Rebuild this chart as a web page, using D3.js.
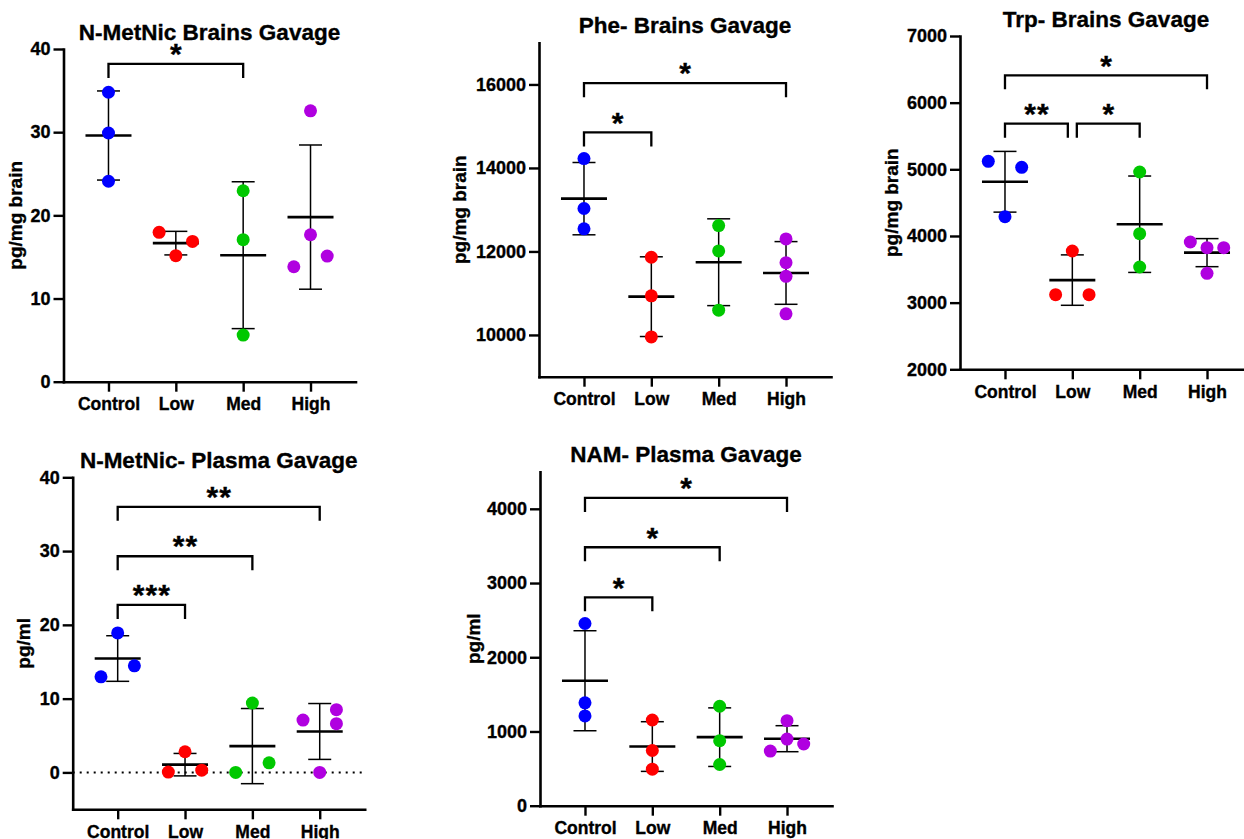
<!DOCTYPE html>
<html><head><meta charset="utf-8">
<script src="https://cdn.jsdelivr.net/npm/d3@7"></script>
<style>
html,body{margin:0;padding:0;background:#fff;overflow:hidden}
svg{display:block}
text{font-family:"Liberation Sans",Arial,sans-serif;font-weight:bold;fill:#000;stroke:#000;stroke-width:0.35px}
</style></head><body>
<svg id="chart" width="1244" height="839"></svg>
<script>
// ---------- DATA ----------
const categories = ["Control", "Low", "Med", "High"];
const groupColors = ["#0000ff", "#ff0000", "#00c800", "#b000e0"];

// Panel 1: N-MetNic Brains Gavage
const nmetBrainTitle = "N-MetNic Brains Gavage";
const nmetBrainUnit = "pg/mg brain";
const nmetBrainDomain = [0, 40];
const nmetBrainTicks = [0, 10, 20, 30, 40];
const nmetBrainValues = [[34.8, 29.9, 24.1], [17.96, 16.87, 15.15], [22.96, 17.07, 5.6], [32.57, 17.67, 13.82, 15.1]];
const nmetBrainSlots = [[0, 0, 0], [-1, 1, 0], [0, 0, 0], [0, 0, -1, 1]];
const nmetBrainSig = [["Control", "Med", 38.2, "*"]];

// Panel 2: Phe- Brains Gavage
const pheBrainTitle = "Phe- Brains Gavage";
const pheBrainUnit = "pg/mg brain";
const pheBrainDomain = [9000, 17000];
const pheBrainTicks = [10000, 12000, 14000, 16000];
const pheBrainValues = [[14224, 13029, 12541], [11861, 10938, 9952], [12620, 12012, 10594], [12300, 11731, 11404, 10505]];
const pheBrainSlots = [[0, 0, 0], [0, 0, 0], [0, 0, 0], [0, 0, 0, 0]];
const pheBrainSig = [["Control", "High", 16030, "*"], ["Control", "Low", 14850, "*"]];

// Panel 3: Trp- Brains Gavage
const trpBrainTitle = "Trp- Brains Gavage";
const trpBrainUnit = "pg/mg brain";
const trpBrainDomain = [2000, 7000];
const trpBrainTicks = [2000, 3000, 4000, 5000, 6000, 7000];
const trpBrainValues = [[5120, 5030, 4290], [3775, 3120, 3120], [4960, 4034, 3535], [3910, 3825, 3825, 3440]];
const trpBrainSlots = [[-1, 1, 0], [0, -1, 1], [0, 0, 0], [-1, 0, 1, 0]];
const trpBrainSig = [["Control", "High", 6410, "*"], ["Control", "Low", 5684, "**"], ["Low", "Med", 5684, "*"]];

// Panel 4: N-MetNic- Plasma Gavage
const nmetPlasmaTitle = "N-MetNic- Plasma Gavage";
const nmetPlasmaUnit = "pg/ml";
const nmetPlasmaDomain = [-5, 40];
const nmetPlasmaTicks = [0, 10, 20, 30, 40];
const nmetPlasmaValues = [[18.9, 14.45, 12.96], [2.8, 0.05, 0.3], [9.4, 0, 1.3], [8.5, 7.1, 6.6, 0]];
const nmetPlasmaSlots = [[0, 1, -1], [0, -1, 1], [0, -1, 1], [1, -1, 1, 0]];
const nmetPlasmaSig = [["Control", "High", 36.0, "**"], ["Control", "Med", 29.3, "**"], ["Control", "Low", 22.7, "***"]];

// Panel 5: NAM- Plasma Gavage
const namPlasmaTitle = "NAM- Plasma Gavage";
const namPlasmaUnit = "pg/ml";
const namPlasmaDomain = [0, 4500];
const namPlasmaTicks = [0, 1000, 2000, 3000, 4000];
const namPlasmaValues = [[2455, 1386, 1210], [1155, 744, 492], [1340, 875, 555], [1146, 898, 736, 831]];
const namPlasmaSlots = [[0, 0, 0], [0, 0, 0], [0, 0, 0], [0, 0, -1, 1]];
const namPlasmaSig = [["Control", "High", 4146, "*"], ["Control", "Med", 3482, "*"], ["Control", "Low", 2808, "*"]];

const panels = [
  {title: nmetBrainTitle, unit: nmetBrainUnit, domain: nmetBrainDomain, ticks: nmetBrainTicks, values: nmetBrainValues, slots: nmetBrainSlots, sig: nmetBrainSig, zeroLine: false},
  {title: pheBrainTitle, unit: pheBrainUnit, domain: pheBrainDomain, ticks: pheBrainTicks, values: pheBrainValues, slots: pheBrainSlots, sig: pheBrainSig, zeroLine: false},
  {title: trpBrainTitle, unit: trpBrainUnit, domain: trpBrainDomain, ticks: trpBrainTicks, values: trpBrainValues, slots: trpBrainSlots, sig: trpBrainSig, zeroLine: false},
  {title: nmetPlasmaTitle, unit: nmetPlasmaUnit, domain: nmetPlasmaDomain, ticks: nmetPlasmaTicks, values: nmetPlasmaValues, slots: nmetPlasmaSlots, sig: nmetPlasmaSig, zeroLine: true},
  {title: namPlasmaTitle, unit: namPlasmaUnit, domain: namPlasmaDomain, ticks: namPlasmaTicks, values: namPlasmaValues, slots: namPlasmaSlots, sig: namPlasmaSig, zeroLine: false}
];

// ---------- LAYOUT ----------
const layout = [
  {ax: 63.5, top: 49, bottom: 381.7, unitX: 21.5},
  {ax: 539, top: 42.7, bottom: 376.7, unitX: 466},
  {ax: 960, top: 36, bottom: 369.3, unitX: 897.5},
  {ax: 72.7, top: 477.3, bottom: 809.3, unitX: 29.5},
  {ax: 540, top: 471.7, bottom: 805.7, unitX: 479.5}
];
const AXIS_LEN = 292, JIT = 16.7, R = 6.5;
const MEAN_HW = 23, CAP_HW = 11.5, LEG = 14, STAR_GAP = 17, INSET = 4.5;
const STAR_FS = 30;

const svg = d3.select("#chart");

panels.forEach((p, i) => {
  const L = layout[i];
  const g = svg.append("g");
  const x = d3.scalePoint().domain(categories).range([L.ax, L.ax + AXIS_LEN]).padding(0.668);
  const y = d3.scaleLinear().domain(p.domain).range([L.bottom, L.top]);

  if (p.zeroLine) {
    g.append("line")
      .attr("x1", L.ax).attr("x2", L.ax + AXIS_LEN)
      .attr("y1", y(0)).attr("y2", y(0))
      .attr("stroke", "#000").attr("stroke-width", 2)
      .attr("stroke-dasharray", "2,5");
  }

  // axes
  const ya = g.append("g").attr("transform", `translate(${L.ax},0)`)
    .call(d3.axisLeft(y).tickValues(p.ticks).tickSize(10).tickSizeOuter(0).tickPadding(3).tickFormat(d3.format("d")));
  const xa = g.append("g").attr("transform", `translate(0,${L.bottom})`)
    .call(d3.axisBottom(x).tickSize(10).tickSizeOuter(0).tickPadding(6));
  [ya, xa].forEach(a => {
    a.attr("font-family", null).attr("font-size", null);
    a.selectAll("path.domain").attr("stroke", "#000").attr("stroke-width", 2.6).attr("stroke-linecap", "square");
    a.selectAll(".tick line").attr("stroke", "#000").attr("stroke-width", 2.4);
    a.selectAll(".tick text").attr("fill", "#000");
  });
  ya.selectAll(".tick text").style("font-size", "18px");
  xa.selectAll(".tick text").style("font-size", "17.5px");

  // title
  g.append("text")
    .attr("x", (x(categories[0]) + x(categories[categories.length - 1])) / 2)
    .attr("y", L.top - 9.5)
    .attr("text-anchor", "middle")
    .style("font-size", "22.5px")
    .text(p.title);

  // unit label
  g.append("text")
    .attr("transform", `translate(${L.unitX},${(L.top + L.bottom) / 2}) rotate(-90)`)
    .attr("text-anchor", "middle")
    .style("font-size", "19px")
    .text(p.unit);

  // error bars (mean ± SD)
  categories.forEach((c, k) => {
    const vals = p.values[k];
    const m = d3.mean(vals), s = d3.deviation(vals);
    const cx = x(c);
    const eb = g.append("g").attr("stroke", "#000");
    eb.append("line").attr("x1", cx).attr("x2", cx).attr("y1", y(m - s)).attr("y2", y(m + s)).attr("stroke-width", 1.5);
    eb.append("line").attr("x1", cx - CAP_HW).attr("x2", cx + CAP_HW).attr("y1", y(m + s)).attr("y2", y(m + s)).attr("stroke-width", 1.5);
    eb.append("line").attr("x1", cx - CAP_HW).attr("x2", cx + CAP_HW).attr("y1", y(m - s)).attr("y2", y(m - s)).attr("stroke-width", 1.5);
    eb.append("line").attr("x1", cx - MEAN_HW).attr("x2", cx + MEAN_HW).attr("y1", y(m)).attr("y2", y(m)).attr("stroke-width", 2.6);
  });

  // points
  categories.forEach((c, k) => {
    g.append("g").selectAll("circle")
      .data(p.values[k].map((v, j) => ({v, slot: p.slots[k][j]})))
      .join("circle")
      .attr("cx", d => x(c) + d.slot * JIT)
      .attr("cy", d => y(d.v))
      .attr("r", R)
      .attr("fill", groupColors[k]);
  });

  // significance brackets
  p.sig.forEach(([a, b, lvl, lab], bi) => {
    const shares = (cat) => p.sig.some((o, oi) => oi !== bi && o[2] === lvl && (o[0] === cat || o[1] === cat));
    const x1 = x(a) + (shares(a) ? INSET : 0);
    const x2 = x(b) - (shares(b) ? INSET : 0);
    const yl = y(lvl);
    g.append("path")
      .attr("d", `M${x1},${yl + LEG}V${yl}H${x2}V${yl + LEG}`)
      .attr("fill", "none").attr("stroke", "#000").attr("stroke-width", 2.3);
    g.append("text")
      .attr("x", (x1 + x2) / 2 + 0.5)
      .attr("y", yl - STAR_GAP + 0.575 * STAR_FS)
      .attr("text-anchor", "middle")
      .style("font-size", STAR_FS + "px")
      .style("letter-spacing", "1px")
      .text(lab);
  });
});
</script>
</body></html>
